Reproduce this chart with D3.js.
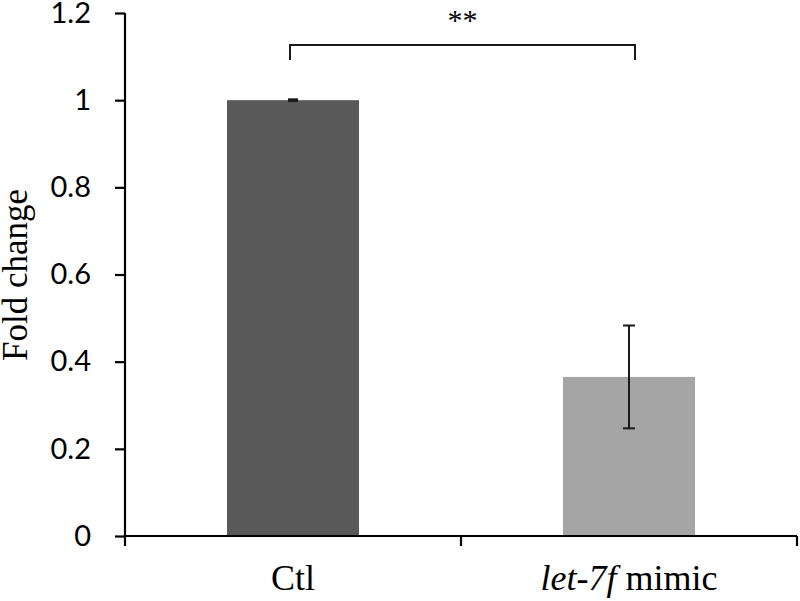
<!DOCTYPE html>
<html>
<head>
<meta charset="utf-8">
<script src="https://cdn.jsdelivr.net/npm/d3@7"></script>
<style>
  html, body { margin: 0; padding: 0; background: #fff; }
  svg { display: block; }
</style>
</head>
<body>
<svg id="chart" width="800" height="601"></svg>
<script>
const categories = ["Ctl", "let-7f mimic"];
const values = [1.0, 0.365];
const errors = [0.002, 0.118];
const barColors = ["#595959", "#a5a5a5"];
const yTicks = [0, 0.2, 0.4, 0.6, 0.8, 1, 1.2];
const yTickLabels = ["0", "0.2", "0.4", "0.6", "0.8", "1", "1.2"];
const yLabel = "Fold change";
const sigLabel = "**";

const svg = d3.select("#chart");
const x = d3.scaleBand().domain(categories).range([125, 797]).padding(0);
const y = d3.scaleLinear().domain([0, 1.2]).range([536, 13]);
const barFrac = 0.393;
const bw = x.bandwidth() * barFrac;
const cx = c => x(c) + x.bandwidth() / 2;

// bars
svg.selectAll("rect.bar").data(categories).enter().append("rect")
  .attr("class", "bar")
  .attr("x", c => cx(c) - bw / 2)
  .attr("width", bw)
  .attr("y", (c, i) => y(values[i]))
  .attr("height", (c, i) => y(0) - y(values[i]))
  .attr("fill", (c, i) => barColors[i]);

// error bars
const eb = svg.append("g").attr("stroke", "#1a1a1a").attr("stroke-width", 2).attr("fill", "none");
categories.forEach((c, i) => {
  const hi = y(values[i] + errors[i]), lo = y(values[i] - errors[i]);
  const capW = i === 0 ? 5 : 6;
  eb.append("line").attr("x1", cx(c)).attr("x2", cx(c)).attr("y1", hi).attr("y2", lo);
  eb.append("line").attr("x1", cx(c) - capW).attr("x2", cx(c) + capW).attr("y1", hi).attr("y2", hi);
  eb.append("line").attr("x1", cx(c) - capW).attr("x2", cx(c) + capW).attr("y1", lo).attr("y2", lo);
});

// y axis
const yAxis = d3.axisLeft(y).tickValues(yTicks).tickFormat((d, i) => yTickLabels[i]).tickSize(10).tickPadding(24);
const gy = svg.append("g").attr("transform", "translate(125,0)").call(yAxis);
gy.select(".domain").attr("stroke", "#000").attr("stroke-width", 2.2).attr("d", "M0," + y(1.2) + "V" + y(0));
gy.selectAll(".tick line").attr("stroke", "#000").attr("stroke-width", 2.2);
gy.selectAll(".tick text").attr("font-family", "Lato, 'Open Sans', sans-serif").attr("font-size", 29).attr("fill", "#000");

// x axis
const xBounds = [125, 461, 797];
const gx = svg.append("g").attr("transform", "translate(0," + y(0) + ")");
gx.append("line").attr("x1", 125).attr("x2", 797).attr("y1", 0).attr("y2", 0).attr("stroke", "#000").attr("stroke-width", 2.2);
gx.selectAll("line.tk").data(xBounds).enter().append("line").attr("class", "tk")
  .attr("x1", d => d).attr("x2", d => d).attr("y1", 0).attr("y2", 10)
  .attr("stroke", "#000").attr("stroke-width", 2.2);

// category labels
const lab = svg.append("g").attr("font-family", "'Liberation Serif', 'Times New Roman', serif").attr("font-size", 36).attr("fill", "#000");
lab.append("text").attr("x", cx(categories[0])).attr("y", 590).attr("text-anchor", "middle").text(categories[0]);
const t2 = lab.append("text").attr("x", cx(categories[1])).attr("y", 590).attr("text-anchor", "middle");
t2.append("tspan").attr("font-style", "italic").text("let-7f");
t2.append("tspan").text(" mimic");

// y label
svg.append("text")
  .attr("transform", "translate(27,275) rotate(-90)")
  .attr("text-anchor", "middle")
  .attr("font-family", "'Liberation Serif', 'Times New Roman', serif")
  .attr("font-size", 35).attr("fill", "#000")
  .text(yLabel);

// significance bracket
const bx1 = cx(categories[0]) - 3, bx2 = cx(categories[1]) + 6;
svg.append("path")
  .attr("d", `M${bx1},60V45H${bx2}V60`)
  .attr("fill", "none").attr("stroke", "#1a1a1a").attr("stroke-width", 2);
svg.append("text").attr("x", (bx1 + bx2) / 2).attr("y", 30).attr("text-anchor", "middle")
  .attr("font-family", "'Liberation Serif', 'Times New Roman', serif").attr("font-size", 30).attr("fill", "#000")
  .text(sigLabel);
</script>
</body>
</html>
